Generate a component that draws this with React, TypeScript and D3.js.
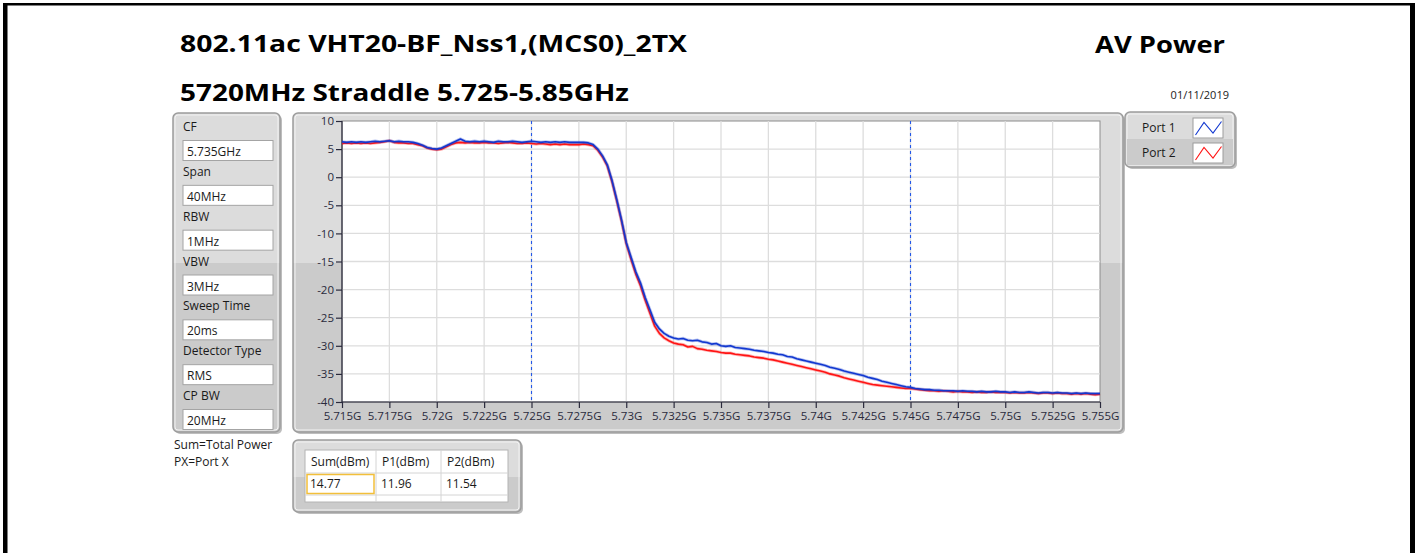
import React, { useRef, useEffect } from 'react';
import * as d3 from 'd3';

// sweep: 161 points, 0.25 MHz apart, starting at 5.715 GHz
const sweepStartGHz = 5.715;
const sweepStepGHz = 0.00025;

// Port 1 (blue) trace, dBm
const port1 = [
  6.3, 6.2, 6.3, 6.2, 6.3, 6.2, 6.3, 6.4, 6.3, 6.4,
  6.5, 6.3, 6.4, 6.3, 6.3, 6.2, 6.0, 5.7, 5.3, 5.1,
  5.0, 5.2, 5.6, 6.0, 6.4, 6.8, 6.4, 6.3, 6.4, 6.3,
  6.4, 6.3, 6.2, 6.4, 6.3, 6.3, 6.4, 6.3, 6.2, 6.3,
  6.4, 6.3, 6.2, 6.3, 6.2, 6.3, 6.2, 6.3, 6.2, 6.2,
  6.2, 6.2, 6.1, 5.8, 5.0, 3.8, 2.2, -0.6, -4.0, -7.6,
  -11.6, -14.2, -16.8, -18.8, -21.4, -23.6, -25.8, -27.0, -27.8, -28.3,
  -28.6, -28.8, -28.7, -29.0, -29.1, -29.0, -29.3, -29.4, -29.7, -29.6,
  -30.0, -30.1, -30.0, -30.3, -30.4, -30.5, -30.6, -30.8, -30.9, -31.0,
  -31.2, -31.3, -31.5, -31.6, -31.9, -32.0, -32.3, -32.5, -32.7, -32.9,
  -33.1, -33.3, -33.5, -33.8, -34.0, -34.2, -34.5, -34.7, -34.9, -35.1,
  -35.3, -35.6, -35.8, -36.0, -36.3, -36.5, -36.7, -36.9, -37.1, -37.3,
  -37.4, -37.6, -37.7, -37.8, -37.8, -37.9, -37.9, -38.0, -38.0, -38.0,
  -38.1, -38.0, -38.1, -38.1, -38.2, -38.1, -38.2, -38.2, -38.1, -38.2,
  -38.2, -38.3, -38.2, -38.3, -38.3, -38.2, -38.3, -38.4, -38.3, -38.3,
  -38.4, -38.3, -38.4, -38.4, -38.5, -38.4, -38.5, -38.4, -38.5, -38.5,
  -38.5,
];

// Port 2 (red) trace, dBm
const port2 = [
  6.0, 6.1, 6.0, 6.1, 6.0, 6.1, 6.0, 6.1, 6.2, 6.3,
  6.5, 6.2, 6.1, 6.1, 6.0, 6.0, 5.8, 5.6, 5.2, 5.0,
  4.9, 5.0, 5.4, 5.8, 6.1, 6.2, 6.1, 6.2, 6.1, 6.1,
  6.2, 6.1, 6.1, 6.0, 6.1, 6.2, 6.1, 6.0, 6.0, 6.1,
  6.0, 5.9, 6.0, 5.9, 5.8, 5.9, 5.8, 5.9, 5.8, 5.8,
  5.8, 5.9, 5.8, 5.6, 4.8, 3.6, 2.0, -0.8, -4.2, -7.8,
  -11.8, -14.6, -17.2, -19.3, -21.9, -24.2, -26.5, -27.8, -28.6, -29.1,
  -29.5, -29.7, -29.8, -30.2, -30.1, -30.5, -30.6, -30.8, -30.9, -31.0,
  -31.2, -31.3, -31.3, -31.5, -31.6, -31.7, -31.8, -32.0, -32.1, -32.2,
  -32.4, -32.5, -32.7, -32.9, -33.1, -33.3, -33.5, -33.7, -33.9, -34.1,
  -34.3, -34.5, -34.7, -35.0, -35.2, -35.4, -35.7, -35.9, -36.1, -36.3,
  -36.5, -36.7, -36.9, -37.0, -37.1, -37.2, -37.3, -37.4, -37.5, -37.6,
  -37.6, -37.7, -37.8, -37.9, -38.0, -38.0, -38.1, -38.0, -38.1, -38.2,
  -38.1, -38.2, -38.2, -38.3, -38.2, -38.3, -38.3, -38.2, -38.3, -38.3,
  -38.3, -38.4, -38.3, -38.4, -38.4, -38.3, -38.4, -38.5, -38.4, -38.4,
  -38.5, -38.4, -38.5, -38.5, -38.6, -38.5, -38.6, -38.5, -38.6, -38.7,
  -38.6,
];

const xTicks = [
  5.715, 5.7175, 5.72, 5.7225, 5.725, 5.7275, 5.73, 5.7325, 5.735,
  5.7375, 5.74, 5.7425, 5.745, 5.7475, 5.75, 5.7525, 5.755,
];
const xTickLabels = [
  '5.715G', '5.7175G', '5.72G', '5.7225G', '5.725G', '5.7275G', '5.73G', '5.7325G', '5.735G',
  '5.7375G', '5.74G', '5.7425G', '5.745G', '5.7475G', '5.75G', '5.7525G', '5.755G',
];
const yTicks = [10, 5, 0, -5, -10, -15, -20, -25, -30, -35, -40];

// band edge markers
const markerFreqs = [5.725, 5.745];

const settingLabels = ['CF', 'Span', 'RBW', 'VBW', 'Sweep Time', 'Detector Type', 'CP BW'];
const settingValues = ['5.735GHz', '40MHz', '1MHz', '3MHz', '20ms', 'RMS', '20MHz'];

const tableHeaders = ['Sum(dBm)', 'P1(dBm)', 'P2(dBm)'];
const tableValues = ['14.77', '11.96', '11.54'];

const legendNames = ['Port 1', 'Port 2'];
const traceColors = ['#1238d0', '#ff1414'];

const W = 1419;
const H = 553;
const FONT = "'Open Sans', 'Noto Sans', sans-serif";

function App() {
  const svgRef = useRef<SVGSVGElement>(null);

  useEffect(() => {
    const svg = d3.select(svgRef.current);
    svg.selectAll('*').remove();

    const defs = svg.append('defs');
    const grad = (id: string, y1: number, y2: number, split: number) => {
      const g = defs.append('linearGradient').attr('id', id)
        .attr('gradientUnits', 'userSpaceOnUse')
        .attr('x1', 0).attr('x2', 0).attr('y1', y1).attr('y2', y2);
      const o = (split - y1) / (y2 - y1);
      g.append('stop').attr('offset', 0).attr('stop-color', '#dcdcdc');
      g.append('stop').attr('offset', o).attr('stop-color', '#dcdcdc');
      g.append('stop').attr('offset', o).attr('stop-color', '#cbcbcb');
      g.append('stop').attr('offset', 1).attr('stop-color', '#cbcbcb');
    };
    grad('panelGrad', 113, 432, 263);
    grad('tableGrad', 440, 512, 477);

    svg.append('rect').attr('width', W).attr('height', H).attr('fill', '#fff');

    // outer black frame
    svg.append('rect').attr('x', 3).attr('y', 3).attr('width', 1412).attr('height', 2.5).attr('fill', '#000');
    svg.append('rect').attr('x', 3).attr('y', 3).attr('width', 4.5).attr('height', H).attr('fill', '#000');
    svg.append('rect').attr('x', 1410).attr('y', 3).attr('width', 5).attr('height', H).attr('fill', '#000');

    // titles
    svg.append('text').attr('x', 180).attr('y', 52).text('802.11ac VHT20-BF_Nss1,(MCS0)_2TX')
      .attr('font-family', FONT).attr('font-weight', 700).attr('font-size', 24)
      .attr('textLength', 507).attr('lengthAdjust', 'spacingAndGlyphs');
    svg.append('text').attr('x', 180).attr('y', 101).text('5720MHz Straddle 5.725-5.85GHz')
      .attr('font-family', FONT).attr('font-weight', 700).attr('font-size', 24)
      .attr('textLength', 449).attr('lengthAdjust', 'spacingAndGlyphs');
    svg.append('text').attr('x', 1095).attr('y', 53).text('AV Power')
      .attr('font-family', FONT).attr('font-weight', 700).attr('font-size', 24)
      .attr('textLength', 130).attr('lengthAdjust', 'spacingAndGlyphs');
    svg.append('text').attr('x', 1229).attr('y', 99).attr('text-anchor', 'end').text('01/11/2019')
      .attr('font-family', FONT).attr('font-size', 11).attr('fill', '#222');

    const panel = (x: number, y: number, w: number, h: number, fill: string) => {
      svg.append('rect').attr('x', x + 2).attr('y', y + 2).attr('width', w).attr('height', h)
        .attr('rx', 5).attr('fill', '#bdbdbd');
      svg.append('rect').attr('x', x).attr('y', y).attr('width', w).attr('height', h)
        .attr('rx', 5).attr('fill', fill).attr('stroke', '#9c9c9c').attr('stroke-width', 1.5);
      svg.append('rect').attr('x', x + 2).attr('y', y + 2).attr('width', w - 4).attr('height', h - 4)
        .attr('rx', 3).attr('fill', 'none').attr('stroke', '#f2f2f2').attr('stroke-width', 1);
    };

    // settings panel
    panel(173, 113, 107, 319, 'url(#panelGrad)');
    const labelY = d3.scaleLinear().domain([0, settingLabels.length - 1]).range([131, 400]);
    settingLabels.forEach((lab, i) => {
      const by = labelY(i);
      svg.append('text').attr('x', 183).attr('y', by).text(lab)
        .attr('font-family', FONT).attr('font-size', 12).attr('fill', '#1a1a1a');
      svg.append('rect').attr('x', 183).attr('y', by + 9.5).attr('width', 90).attr('height', 20)
        .attr('fill', '#fff').attr('stroke', '#a4a4a4');
      svg.append('text').attr('x', 187).attr('y', by + 25).text(settingValues[i])
        .attr('font-family', FONT).attr('font-size', 12).attr('fill', '#1a1a1a');
    });
    svg.append('text').attr('x', 174).attr('y', 449).text('Sum=Total Power')
      .attr('font-family', FONT).attr('font-size', 12).attr('fill', '#1a1a1a');
    svg.append('text').attr('x', 174).attr('y', 465.5).text('PX=Port X')
      .attr('font-family', FONT).attr('font-size', 12).attr('fill', '#1a1a1a');

    // graph panel
    panel(293, 113, 830, 319, 'url(#panelGrad)');

    const x = d3.scaleLinear().domain([5.715, 5.755]).range([342, 1100]);
    const y = d3.scaleLinear().domain([-40, 10]).range([402, 121]);

    svg.append('rect').attr('x', x(5.715)).attr('y', y(10))
      .attr('width', x(5.755) - x(5.715)).attr('height', y(-40) - y(10))
      .attr('fill', '#fff').attr('stroke', '#8c8c8c');

    const grid = svg.append('g').attr('stroke', '#dddddd').attr('stroke-width', 1.3);
    xTicks.slice(1, -1).forEach((t) => {
      grid.append('line').attr('x1', x(t)).attr('x2', x(t)).attr('y1', y(10)).attr('y2', y(-40));
    });
    yTicks.slice(1, -1).forEach((t) => {
      grid.append('line').attr('x1', x(5.715)).attr('x2', x(5.755)).attr('y1', y(t)).attr('y2', y(t));
    });

    markerFreqs.forEach((f) => {
      svg.append('line').attr('x1', x(f)).attr('x2', x(f)).attr('y1', y(10)).attr('y2', y(-40))
        .attr('stroke', '#2458e8').attr('stroke-width', 1.1).attr('stroke-dasharray', '3,3');
    });

    // axes
    const axisColor = '#2a2a3c';
    const yAxis = svg.append('g').attr('transform', `translate(${x(5.715)},0)`)
      .call(d3.axisLeft(y).tickValues(yTicks).tickSize(6).tickPadding(2).tickFormat((d) => String(d)));
    const xAxis = svg.append('g').attr('transform', `translate(0,${y(-40)})`)
      .call(d3.axisBottom(x).tickValues(xTicks).tickSize(6).tickPadding(4)
        .tickFormat((_d, i) => xTickLabels[i]));
    [yAxis, xAxis].forEach((a) => {
      a.selectAll('path').attr('stroke', axisColor).attr('stroke-width', 1.2);
      a.selectAll('line').attr('stroke', axisColor).attr('stroke-width', 1.2);
      a.selectAll('text').attr('fill', axisColor).attr('font-family', FONT).attr('font-size', 11.5);
    });
    yAxis.select('.domain').attr('d', `M0,${y(10)}V${y(-40)}`);
    xAxis.select('.domain').attr('d', `M${x(5.715)},0H${x(5.755)}`);

    // traces
    const line = d3.line<number>()
      .x((_d, i) => x(sweepStartGHz + i * sweepStepGHz))
      .y((d) => y(d));
    [port2, port1].forEach((series, k) => {
      const color = traceColors[1 - k];
      svg.append('path').attr('d', line(series)).attr('fill', 'none')
        .attr('stroke', color).attr('stroke-opacity', 0.3).attr('stroke-width', 3.2);
      svg.append('path').attr('d', line(series)).attr('fill', 'none')
        .attr('stroke', color).attr('stroke-width', 1.6).attr('stroke-linejoin', 'round');
    });

    // legend
    panel(1125, 112, 110, 55, '#dcdcdc');
    svg.append('rect').attr('x', 1127).attr('y', 139).attr('width', 106).attr('height', 26).attr('fill', '#cbcbcb');
    legendNames.forEach((name, i) => {
      const ry = 114 + i * 25;
      svg.append('text').attr('x', 1142).attr('y', ry + 18).text(name)
        .attr('font-family', FONT).attr('font-size', 12).attr('fill', '#1a1a1a');
      svg.append('rect').attr('x', 1193).attr('y', ry + 4).attr('width', 30).attr('height', 20)
        .attr('fill', '#fff').attr('stroke', '#9c9c9c');
      svg.append('path')
        .attr('d', `M1195.5,${ry + 21}L1204,${ry + 8.5}L1213,${ry + 19}L1221.5,${ry + 7.5}`)
        .attr('fill', 'none').attr('stroke', traceColors[i]).attr('stroke-width', 1.1);
    });

    // results table
    panel(293, 440, 228, 72, 'url(#tableGrad)');
    svg.append('rect').attr('x', 305).attr('y', 450).attr('width', 203).attr('height', 52)
      .attr('fill', '#fff').attr('stroke', '#b4b4b4');
    const colX = [305, 376, 441, 508];
    const tg = svg.append('g').attr('stroke', '#d4d4d4');
    colX.slice(1, -1).forEach((cx) => {
      tg.append('line').attr('x1', cx).attr('x2', cx).attr('y1', 450).attr('y2', 502);
    });
    [473, 495].forEach((ly) => {
      tg.append('line').attr('x1', 305).attr('x2', 508).attr('y1', ly).attr('y2', ly);
    });
    svg.append('rect').attr('x', 307).attr('y', 474.5).attr('width', 67).attr('height', 19)
      .attr('fill', 'none').attr('stroke', '#f2bf3a').attr('stroke-width', 1.5);
    tableHeaders.forEach((h, i) => {
      svg.append('text').attr('x', colX[i] + 6).attr('y', 466).text(h)
        .attr('font-family', FONT).attr('font-size', 12).attr('fill', '#1a1a1a');
      svg.append('text').attr('x', colX[i] + 5).attr('y', 488).text(tableValues[i])
        .attr('font-family', FONT).attr('font-size', 12).attr('fill', '#1a1a1a');
    });
  }, []);

  return (
    <svg ref={svgRef} width={W} height={H}
      style={{ position: 'absolute', left: 0, top: 0, display: 'block' }} />
  );
}

export default App;
